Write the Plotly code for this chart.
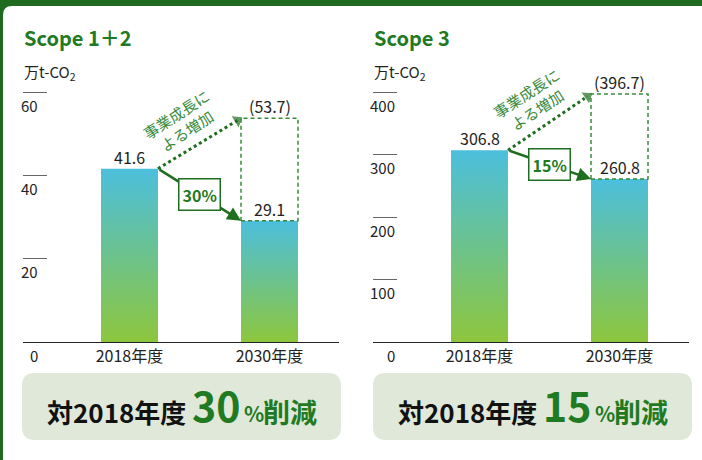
import plotly.graph_objects as go

# ---- data ----
years = ["2018年度", "2030年度"]
scope12_values = [41.6, 29.1]
scope12_growth = 53.7
scope12_cut = "30"
scope3_values = [306.8, 260.8]
scope3_growth = 396.7
scope3_cut = "15"
scope12_ticks = [0, 20, 40, 60]
scope3_ticks = [0, 100, 200, 300, 400]
titles = ["Scope 1＋2", "Scope 3"]
unit = "万t-CO<sub>2</sub>"
growth_text = "事業成長に<br>よる増加"
summary_prefix = "対2018年度"
summary_suffix = "削減"

W, H = 702, 460
FONT = "Noto Sans CJK JP"
GREEN_FRAME = "#1e6b20"
GREEN = "#1f7a22"
GREEN_ARROW = "#1f6e1f"
GREEN_DASH = "#3a8a3a"
BOX_BG = "#dfe8d9"
TXT = "#222222"
C_TOP = "#4cbfdd"
C_BOT = "#8dc63d"
HW = 0.2036  # half bar width in axis units
HEADROOM = 1.02


def px(x):
    return x / W


def py(y):
    return 1 - y / H


def rounded_rect(x0, y0, x1, y1, r):
    rx, ry = r / W, r / H
    X0, X1 = px(x0), px(x1)
    Y0, Y1 = py(y1), py(y0)  # bottom, top in paper coords
    return (f"M {X0+rx},{Y1} L {X1-rx},{Y1} Q {X1},{Y1} {X1},{Y1-ry} "
            f"L {X1},{Y0+ry} Q {X1},{Y0} {X1-rx},{Y0} L {X0+rx},{Y0} "
            f"Q {X0},{Y0} {X0},{Y0+ry} L {X0},{Y1-ry} Q {X0},{Y1} {X0+rx},{Y1} Z")


fig = go.Figure()

panels = [
    dict(xa="x", ya="y", vals=scope12_values, growth=scope12_growth, cut=scope12_cut,
         ticks=scope12_ticks, ymax=60, dom=(23, 339), title=titles[0], tick_right=40,
         box=(22, 341)),
    dict(xa="x2", ya="y2", vals=scope3_values, growth=scope3_growth, cut=scope3_cut,
         ticks=scope3_ticks, ymax=400, dom=(373, 689), title=titles[1], tick_right=397,
         box=(373, 692)),
]

annotations = []
shapes = []

# white panel with rounded corner on green frame
shapes.append(dict(type="path", xref="paper", yref="paper", layer="below",
                   path=rounded_rect(3, 6, W + 20, H + 20, 9),
                   fillcolor="white", line=dict(width=0)))

for i, p in enumerate(panels):
    xa, ya = p["xa"], p["ya"]
    v0, v1 = p["vals"]
    g = p["growth"]
    # bars with vertical gradient
    for k, v in enumerate(p["vals"]):
        fig.add_trace(go.Scatter(
            x=[k - HW, k + HW, k + HW, k - HW, k - HW], y=[0, 0, v, v, 0],
            xaxis=xa, yaxis=ya, mode="lines", fill="toself",
            fillgradient=dict(type="vertical", colorscale=[[0, C_BOT], [1, C_TOP]]),
            line=dict(width=0), hoverinfo="skip", showlegend=False))
    # dotted growth arrow
    fig.add_trace(go.Scatter(
        x=[HW, 1 - HW], y=[v0, g], xaxis=xa, yaxis=ya, mode="lines+markers",
        line=dict(color=GREEN_ARROW, width=3, dash="dot"),
        marker=dict(symbol="triangle-up", size=[0, 13], color=GREEN_ARROW,
                    angleref="previous", standoff=4),
        cliponaxis=False, hoverinfo="skip", showlegend=False))
    # dashed box
    shapes.append(dict(type="rect", xref=xa, yref=ya, x0=1 - HW, x1=1 + HW, y0=v1, y1=g,
                       line=dict(color=GREEN_DASH, width=1.5, dash="4px,3px")))
    # solid reduction arrow
    annotations.append(dict(x=1 - HW, y=v1, ax=HW, ay=v0, xref=xa, yref=ya,
                            axref=xa, ayref=ya, text="", showarrow=True,
                            arrowhead=2, arrowsize=1.1, arrowwidth=2.5,
                            arrowcolor=GREEN_ARROW))
    annotations.append(dict(x=0.5, y=(v0 + v1) / 2, xref=xa, yref=ya, showarrow=False,
                            text=f"<b>{p['cut']}%</b>", bgcolor="white",
                            bordercolor=GREEN_ARROW, borderwidth=1.5, borderpad=3,
                            font=dict(family=FONT, size=16, color=GREEN)))
    # rotated growth text
    annotations.append(dict(x=0.5, y=(v0 + g) / 2, xref=xa, yref=ya, showarrow=False,
                            text=growth_text, textangle=-33, xshift=-18, yshift=21,
                            font=dict(family=FONT, size=15, color=GREEN_DASH)))
    # value labels
    for k, v in enumerate(p["vals"]):
        annotations.append(dict(x=k, y=v, xref=xa, yref=ya, showarrow=False,
                                text=f"{v:.1f}", yanchor="bottom", yshift=-2,
                                font=dict(family=FONT, size=16, color=TXT)))
    annotations.append(dict(x=1, y=g, xref=xa, yref=ya, showarrow=False,
                            text=f"({g:.1f})", yanchor="bottom", yshift=-2,
                            font=dict(family=FONT, size=16, color=TXT)))
    # y tick labels (below tick lines)
    for t in p["ticks"]:
        annotations.append(dict(x=px(p["tick_right"]), y=t, xref="paper", yref=ya,
                                showarrow=False, text=str(t), xanchor="right",
                                yanchor="middle", yshift=-13,
                                font=dict(family=FONT, size=15, color=TXT)))
    # title & unit
    x_left = px(p["dom"][0] - 1)
    annotations.append(dict(x=x_left, y=py(38), xref="paper", yref="paper",
                            showarrow=False, text=f"<b>{p['title']}</b>",
                            xanchor="left", yanchor="middle",
                            font=dict(family=FONT, size=20, color=GREEN)))
    annotations.append(dict(x=x_left, y=py(73), xref="paper", yref="paper",
                            showarrow=False, text=unit, xanchor="left", yanchor="middle",
                            font=dict(family=FONT, size=15, color=TXT)))
    # bottom summary box
    bx0, bx1 = p["box"]
    shapes.append(dict(type="path", xref="paper", yref="paper", layer="below",
                       path=rounded_rect(bx0, 373, bx1, 440, 13),
                       fillcolor=BOX_BG, line=dict(width=0)))
    annotations.append(dict(x=px(bx0 + 166), y=py(411), xref="paper", yref="paper",
                            showarrow=False, text=f"<b>{summary_prefix}</b>",
                            xanchor="right", yanchor="middle",
                            font=dict(family=FONT, size=26, color="#111111")))
    annotations.append(dict(x=px(bx0 + 194), y=py(404), xref="paper", yref="paper",
                            showarrow=False, text=f"<b>{p['cut']}</b>",
                            xanchor="center", yanchor="middle",
                            font=dict(family=FONT, size=41, color=GREEN)))
    annotations.append(dict(x=px(bx0 + 220), y=py(413), xref="paper", yref="paper",
                            showarrow=False, text="<b>%</b>",
                            xanchor="left", yanchor="middle",
                            font=dict(family=FONT, size=21, color=GREEN)))
    annotations.append(dict(x=px(bx0 + 239), y=py(411), xref="paper", yref="paper",
                            showarrow=False, text=f"<b>{summary_suffix}</b>",
                            xanchor="left", yanchor="middle",
                            font=dict(family=FONT, size=27, color=GREEN)))

    dom = [px(p["dom"][0]), px(p["dom"][1])]
    axis_x = dict(domain=dom, range=[-0.7607, 1.4964], tickvals=[0, 1], ticktext=years,
                  showline=True, linecolor="#222222", linewidth=1.3, ticks="",
                  showgrid=False, zeroline=False, fixedrange=True,
                  tickfont=dict(family=FONT, size=16, color=TXT),
                  anchor=ya)
    top_px = 342 - 250 * HEADROOM
    axis_y = dict(domain=[py(342), py(top_px)], range=[0, p["ymax"] * HEADROOM],
                  tickvals=p["ticks"][1:], ticks="inside", ticklen=24, tickwidth=1.2,
                  tickcolor="#666666", showticklabels=False, showline=False,
                  showgrid=False, zeroline=False, fixedrange=True, anchor=xa)
    key = "" if i == 0 else "2"
    fig.update_layout(**{f"xaxis{key}": axis_x, f"yaxis{key}": axis_y})

fig.update_layout(
    width=W, height=H, margin=dict(l=0, r=0, t=0, b=0),
    paper_bgcolor=GREEN_FRAME, plot_bgcolor="rgba(0,0,0,0)",
    annotations=annotations, shapes=shapes, showlegend=False,
    font=dict(family=FONT, color=TXT),
)

fig.write_html("out.html", config={"displayModeBar": False},
               post_script="document.body.style.margin='0';document.body.style.padding='0';")
